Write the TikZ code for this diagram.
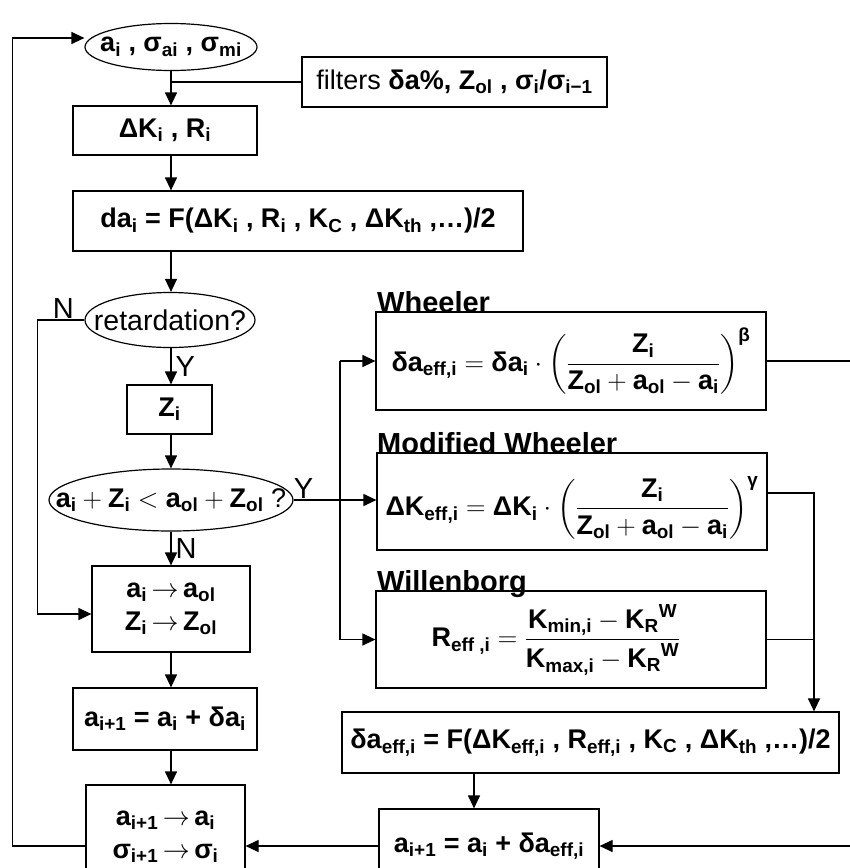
\documentclass[tikz,border=0pt]{standalone}
\usepackage{fix-cm}
\usepackage{amsmath}
\usepackage{fontspec}
\setmainfont{Liberation Sans}
\usetikzlibrary{arrows.meta,shapes.geometric}
\newcommand\T[1]{\text{\bfseries #1}}
\newcommand\sbx[1]{\textsubscript{#1}}
\newcommand\ra{\,$\rightarrow$\,}
\begin{document}
\begin{tikzpicture}[x=1pt,y=-1pt,
  every node/.style={font=\fontsize{27}{33}\selectfont\bfseries, inner sep=0pt},
  box/.style={draw, line width=1.2pt, rectangle},
  oval/.style={draw, line width=1.2pt, ellipse},
  lbl/.style={font=\fontsize{29}{30}\selectfont\mdseries, inner sep=1pt},
  ttl/.style={font=\fontsize{29}{30}\selectfont\bfseries, anchor=base west},
  arr/.style={line width=1.2pt, -{Triangle[length=13pt,width=12pt]}},
  ln/.style={line width=1.2pt}]
\useasboundingbox (0,0) rectangle (850,868);
\coordinate (col) at (171,0);
\coordinate (dx) at (340,0);
\coordinate (mx) at (814,0);
\coordinate (rx) at (853,0);
\coordinate (dx2) at (474,0);

% left column
\node[oval, minimum width=172, minimum height=47] (start) at (171,47)
  {\makebox[0pt]{a\sbx{i} , σ\sbx{ai} , σ\sbx{mi}}};
\node[box, minimum width=305, minimum height=50] (filt) at (454.5,82)
  {\mdseries filters \bfseries δa\%, Z\sbx{ol} , σ\sbx{i}/σ\sbx{i−1}};
\node[box, minimum width=184, minimum height=49] (dK) at (165,130.5)
  {ΔK\sbx{i} , R\sbx{i}};
\node[box, minimum width=450, minimum height=60] (da) at (298,221)
  {da\sbx{i} = F(ΔK\sbx{i} , R\sbx{i} , K\sbx{C} , ΔK\sbx{th} ,\ldots)/2};
\node[oval, minimum width=170, minimum height=55] (ret) at (170,320)
  {\makebox[0pt]{\fontsize{28.5}{30}\selectfont\mdseries retardation?}};
\node[box, minimum width=85, minimum height=49] (Z) at (169.5,409.5) {Z\sbx{i}};
\node[oval, minimum width=244, minimum height=62] (cond) at (171,500)
  {\makebox[0pt]{$\T{a}_{\T{i}}+\T{Z}_{\T{i}}<\T{a}_{\T{ol}}+\T{Z}_{\T{ol}}$ \mdseries ?}};
\node[box, minimum width=158, minimum height=86, align=center] (ao) at (171,609)
  {a\sbx{i}\ra a\sbx{ol}\\Z\sbx{i}\ra Z\sbx{ol}};
\node[box, minimum width=184, minimum height=62] (ai1) at (165,719)
  {a\sbx{i+1} = a\sbx{i} + δa\sbx{i}};
\node[box, minimum width=159, minimum height=104, align=center] (fin) at (165.5,837)
  {a\sbx{i+1}\ra a\sbx{i}\\σ\sbx{i+1}\ra σ\sbx{i}};

% right column
\node[box, minimum width=390, minimum height=98] (wh) at (571,361)
  {$\displaystyle \T{δa}_{\T{eff,i}} = \T{δa}_{\T{i}}\cdot\left(\frac{\T{Z}_{\T{i}}}{\T{Z}_{\T{ol}}+\T{a}_{\T{ol}}-\T{a}_{\T{i}}}\right)^{\T{β}}$};
\node[ttl] (whl) at (377,312) {Wheeler};
\node[box, minimum width=390, minimum height=97] (mw) at (572,501.5)
  {\raisebox{-6pt}[\height][\depth]{$\displaystyle \T{ΔK}_{\T{eff,i}} = \T{ΔK}_{\T{i}}\cdot\left(\frac{\T{Z}_{\T{i}}}{\T{Z}_{\T{ol}}+\T{a}_{\T{ol}}-\T{a}_{\T{i}}}\right)^{\T{γ}}$}};
\node[ttl] (mwl) at (377,453) {Modified Wheeler};
\node[box, minimum width=390, minimum height=97] (wb) at (571,639.5)
  {$\displaystyle \T{R}_{\T{eff ,i}} = \frac{\T{K}_{\T{min,i}}-{\T{K}_{\T{R}}}^{\T{W}}}{\T{K}_{\T{max,i}}-{\T{K}_{\T{R}}}^{\T{W}}}$\hspace*{30pt}};
\node[ttl] (wbl) at (377,591) {Willenborg};
\node[box, minimum width=497, minimum height=61] (dae) at (590.5,742.5)
  {δa\sbx{eff,i} = F(ΔK\sbx{eff,i} , R\sbx{eff,i} , K\sbx{C} , ΔK\sbx{th} ,\ldots)/2};
\node[box, minimum width=220, minimum height=74] (aie) at (489,846)
  {a\sbx{i+1} = a\sbx{i} + δa\sbx{eff,i}};

% connectors
\draw[arr] ([yshift=-9pt]fin.west) -- ++(-73,0) |- ([yshift=9pt]start.west);
\draw[arr] (start.south -| col) -- (dK.north -| col);
\draw[ln] (filt.west) -- (filt.west -| col);
\draw[arr] (dK.south -| col) -- (da.north -| col);
\draw[arr] (da.south -| col) -- (ret.north -| col);
\draw[arr] (ret.south -| col) -- node[lbl, right, xshift=3pt]{Y} (Z.north -| col);
\draw[arr] (Z.south -| col) -- (cond.north -| col);
\draw[arr] (cond.south -| col) -- node[lbl, right, xshift=3pt]{N} (ao.north -| col);
\draw[arr] (ret.west) -- node[lbl, above, pos=0.45]{N} ++(-47,0) |- ([yshift=-5pt]ao.west);
\draw[arr] (cond.east) -- node[lbl, above, pos=0.12]{Y} (cond.east -| mw.west);
\draw[ln] (wh.west -| dx) -- (wb.west -| dx);
\draw[arr] (wh.west -| dx) -- (wh.west);
\draw[arr] (wb.west -| dx) -- (wb.west);
\draw[arr] (ao.south -| col) -- (ai1.north -| col);
\draw[arr] (ai1.south -| col) -- (fin.north -| col);
\draw[arr] (wh.east) -- (wh.east -| rx) |- (aie.east);
\draw[arr] ([yshift=8.5pt]mw.east) -| (dae.north -| mx);
\draw[ln] (wb.east) -- (wb.east -| mx);
\draw[arr] (dae.south -| dx2) -- (aie.north -| dx2);
\draw[arr] (aie.west) -- ([yshift=-9pt]fin.east);
\end{tikzpicture}
\end{document}
